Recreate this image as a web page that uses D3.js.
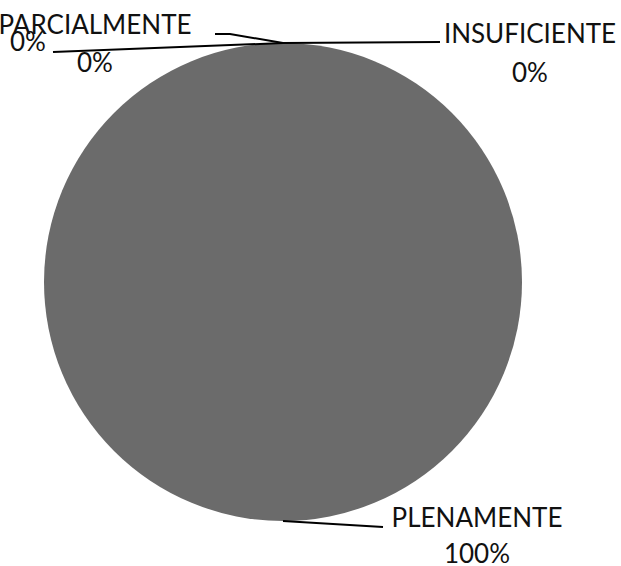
<!DOCTYPE html>
<html>
<head>
<meta charset="utf-8">
<script src="https://cdn.jsdelivr.net/npm/d3@7"></script>
<style>
  body { margin: 0; background: #fff; }
  text { font-family: Lato, "Open Sans", sans-serif; font-size: 26px; fill: #111; }
</style>
</head>
<body>
<div id="chart"></div>
<script>
// data
var categories = ["PLENAMENTE", "PARCIALMENTE", "INSUFICIENTE", ""];
var values = [100, 0, 0, 0];
var pctLabels = ["100%", "0%", "0%", "0%"];

var width = 621, height = 566,
    cx = 283, cy = 282, radius = 239;

// label placement (x/y = centre of first line baseline, pts = leader bends)
var labelPos = [
    {x: 477, y: 527, gap: 36, pts: [[383, 527]]},
    {x: 95,  y: 34,  gap: 38, pts: [[230, 34], [215, 34]]},
    {x: 530, y: 43,  gap: 39, pts: [[440, 42]]},
    {x: 28,  y: 51,  gap: 0,  pts: [[53, 52]]}
];

var svg = d3.select("#chart").append("svg")
    .attr("width", width)
    .attr("height", height);

var g = svg.append("g")
    .attr("transform", "translate(" + cx + "," + cy + ")");

var pie = d3.pie().sort(null).value(function(d) { return d; });
var arc = d3.arc().innerRadius(0).outerRadius(radius);
var slices = pie(values);

g.selectAll("path.slice")
    .data(slices)
    .enter().append("path")
    .attr("class", "slice")
    .attr("d", arc)
    .attr("fill", "#6b6b6b");

// leader lines
var line = d3.line();
svg.selectAll("path.leader")
    .data(slices)
    .enter().append("path")
    .attr("class", "leader")
    .attr("fill", "none")
    .attr("stroke", "#000")
    .attr("stroke-width", 2)
    .attr("d", function(d, i) {
        var a = (d.startAngle + d.endAngle) / 2;
        var start = [cx + Math.sin(a) * radius, cy - Math.cos(a) * radius];
        return line([start].concat(labelPos[i].pts));
    });

// labels
var lab = svg.selectAll("g.label")
    .data(slices)
    .enter().append("g")
    .attr("class", "label");

lab.append("text")
    .attr("text-anchor", "middle")
    .attr("x", function(d, i) { return labelPos[i].x; })
    .attr("y", function(d, i) { return labelPos[i].y; })
    .text(function(d, i) { return categories[i]; });

lab.append("text")
    .attr("text-anchor", "middle")
    .attr("x", function(d, i) { return labelPos[i].x; })
    .attr("y", function(d, i) { return labelPos[i].y + labelPos[i].gap; })
    .text(function(d, i) { return pctLabels[i]; });
</script>
</body>
</html>
